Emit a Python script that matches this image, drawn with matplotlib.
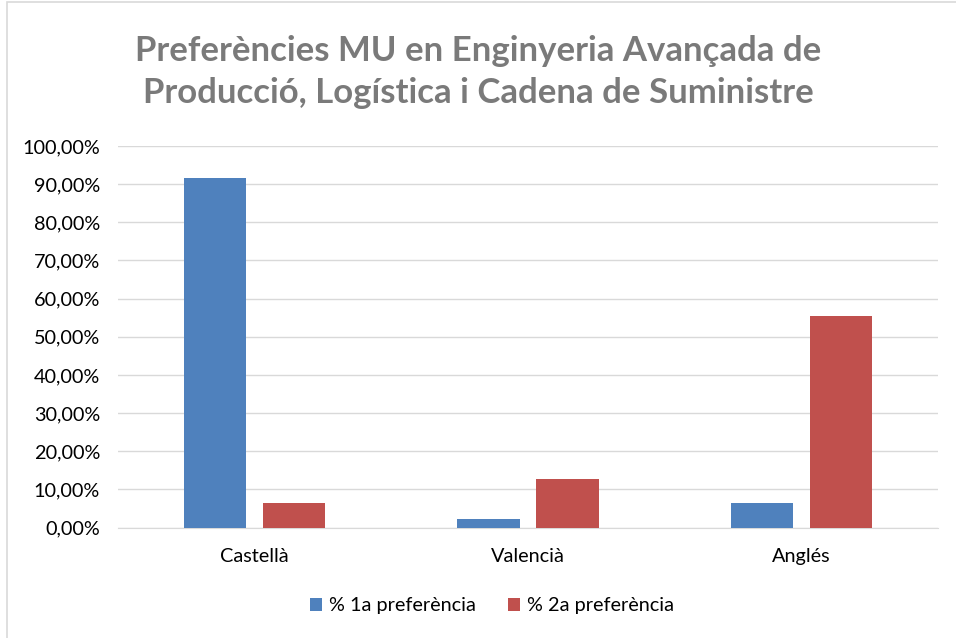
import numpy as np
import matplotlib
matplotlib.use("Agg")
import matplotlib.pyplot as plt
from matplotlib.patches import Rectangle
from matplotlib.ticker import FuncFormatter

# data (47 answers)
idiomes = ["Castellà", "Valencià", "Anglés"]
pref1 = [91.49, 2.13, 6.38]
pref2 = [6.38, 12.77, 55.32]
series_names = ["% 1a preferència", "% 2a preferència"]
colors = ["#4f81bd", "#c0504d"]

plt.rcParams['font.family'] = ['Lato', 'DejaVu Sans']

fig = plt.figure(figsize=(9.56, 6.38), dpi=100)
W, H = 956, 638
ax = fig.add_axes([118 / W, 1 - 527.5 / H, 820 / W, 381.5 / H])

x = np.arange(len(idiomes))
bw = 0.227
gap = 0.062
ax.bar(x - (bw + gap) / 2, pref1, bw, color=colors[0], label=series_names[0], zorder=3)
ax.bar(x + (bw + gap) / 2, pref2, bw, color=colors[1], label=series_names[1], zorder=3)

ax.set_xlim(-0.5, 2.5)
ax.set_ylim(0, 100)
ax.set_yticks(np.arange(0, 101, 10))
ax.yaxis.set_major_formatter(FuncFormatter(lambda v, p: ("%.2f%%" % v).replace(".", ",")))
ax.set_xticks(x)
ax.set_xticklabels(idiomes)
ax.tick_params(axis='both', length=0, labelsize=14.3, colors="#000000")
ax.tick_params(axis='y', pad=13)
ax.tick_params(axis='x', pad=15)
ax.grid(axis='y', color="#d9d9d9", linewidth=1, zorder=0)
for s in ["top", "right", "left"]:
    ax.spines[s].set_visible(False)
ax.spines["bottom"].set_color("#d9d9d9")

fig.text(0.5, 1 - 72 / H,
         "Preferències MU en Enginyeria Avançada de\nProducció, Logística i Cadena de Suministre",
         ha='center', va='center', fontsize=25, fontweight='bold', color="#7a7a7a",
         linespacing=1.4)

fig.legend(loc='center', bbox_to_anchor=(492 / W, 1 - 606 / H), ncol=2, frameon=False,
           fontsize=14.3, handlelength=0.6, handleheight=0.6, columnspacing=1.6,
           handletextpad=0.35)

fig.patches.append(Rectangle((7 / W, -0.1), 1.2, 1 - 2 / H + 0.1, transform=fig.transFigure,
                             fill=False, edgecolor="#d9d9d9", linewidth=1.2, figure=fig))

fig.savefig("out.png", dpi=100)
